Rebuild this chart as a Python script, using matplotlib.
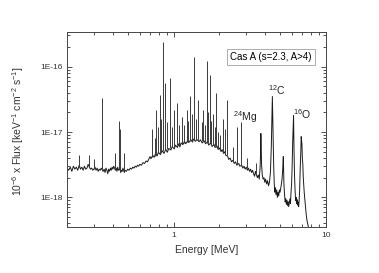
import numpy as np
import matplotlib
matplotlib.use("Agg")
import matplotlib.pyplot as plt
from matplotlib.ticker import LogLocator, NullFormatter, FixedLocator, FixedFormatter

plt.rcParams['font.family'] = ['Liberation Sans Narrow', 'Liberation Sans', 'DejaVu Sans']
plt.rcParams['mathtext.fontset'] = 'custom'
plt.rcParams['mathtext.rm'] = 'Liberation Sans Narrow'
plt.rcParams['mathtext.default'] = 'regular'

#----------------------------------------
# continuum incl. broad lines: energy [MeV], flux [1E-18]
cont_E = [0.200, 0.205, 0.210, 0.215, 0.220, 0.225, 0.230, 0.235, 0.240, 0.245,
          0.250, 0.255, 0.260, 0.265, 0.270, 0.275, 0.280, 0.285, 0.290, 0.295,
          0.300, 0.305, 0.310, 0.315, 0.320, 0.325, 0.330, 0.335, 0.345, 0.350,
          0.355, 0.360, 0.365, 0.370, 0.375, 0.380, 0.385, 0.390, 0.395, 0.400,
          0.405, 0.415, 0.420, 0.425, 0.430, 0.435, 0.445, 0.450, 0.455, 0.460,
          0.465, 0.475, 0.480, 0.490, 0.500, 0.510, 0.520, 0.530, 0.540, 0.550,
          0.560, 0.570, 0.580, 0.590, 0.600, 0.615, 0.630, 0.645, 0.660, 0.675,
          0.690, 0.700, 0.710, 0.730, 0.745, 0.760, 0.780, 0.795, 0.820, 0.840,
          0.865, 0.890, 0.910, 0.930, 0.960, 0.980, 1.010, 1.030, 1.060, 1.080,
          1.100, 1.120, 1.150, 1.180, 1.200, 1.240, 1.260, 1.300, 1.330, 1.350,
          1.390, 1.420, 1.470, 1.500, 1.540, 1.590, 1.620, 1.670, 1.700, 1.750,
          1.790, 1.840, 1.870, 1.930, 1.960, 2.000, 2.050, 2.080, 2.130, 2.170,
          2.200, 2.260, 2.300, 2.350, 2.400, 2.450, 2.500, 2.550, 2.600, 2.680,
          2.720, 2.800, 2.850, 2.900, 2.950, 3.000, 3.050, 3.100, 3.150, 3.200,
          3.250, 3.300, 3.350, 3.400, 3.450, 3.500, 3.550, 3.600, 3.650, 3.700,
          3.720, 3.740, 3.780, 3.820, 3.870, 3.920, 3.970, 4.020, 4.080, 4.140,
          4.200, 4.260, 4.320, 4.380, 4.450, 4.500, 4.540, 4.580, 4.620, 4.660,
          4.700, 4.750, 4.800, 4.850, 4.900, 4.950, 5.000, 5.080, 5.150, 5.200,
          5.250, 5.300, 5.350, 5.400, 5.450, 5.500, 5.550, 5.600, 5.650, 5.700,
          5.750, 5.800, 5.850, 5.900, 5.950, 6.000, 6.050, 6.100, 6.130, 6.170,
          6.220, 6.270, 6.320, 6.370, 6.420, 6.470, 6.520, 6.570, 6.620, 6.670,
          6.720, 6.780, 6.840, 6.880, 6.920, 6.960, 7.000, 7.050, 7.100, 7.150,
          7.200, 7.280, 7.350, 7.420, 7.500, 7.580, 7.650, 7.720, 7.800, 7.880]
cont_F = [2.8, 2.6, 2.9, 2.5, 3.0, 2.7, 2.9, 2.6, 3.1, 2.7,
          2.9, 2.6, 3.0, 2.7, 2.8, 3.2, 2.9, 2.7, 2.8, 2.6,
          2.7, 2.9, 2.6, 2.8, 2.5, 2.7, 2.6, 2.8, 2.5, 2.7,
          2.4, 2.8, 2.6, 2.3, 2.7, 2.5, 2.8, 2.6, 2.9, 2.7,
          3.0, 2.6, 2.8, 2.5, 2.9, 2.6, 2.7, 2.4, 2.6, 2.5,
          2.8, 2.4, 2.6, 2.5, 2.7, 2.6, 2.8, 2.7, 2.9, 2.8,
          3.0, 2.9, 3.1, 3.0, 3.2, 3.1, 3.4, 3.3, 3.6, 3.5,
          3.9, 4.2, 3.9, 4.4, 4.1, 4.6, 4.3, 4.9, 4.5, 5.2,
          4.7, 5.4, 4.9, 5.6, 5.3, 6.0, 5.5, 6.3, 5.8, 6.6,
          5.9, 6.8, 6.4, 7.2, 6.6, 7.4, 6.9, 7.6, 7.0, 7.8,
          7.2, 7.7, 7.1, 7.6, 6.8, 7.3, 6.6, 7.1, 6.3, 6.8,
          6.0, 6.5, 5.8, 6.1, 5.4, 5.7, 5.0, 5.4, 4.7, 5.0,
          4.4, 4.3, 3.8, 4.0, 3.5, 3.7, 3.3, 3.5, 3.1, 3.3,
          3.0, 3.1, 2.8, 3.0, 2.7, 2.9, 2.6, 2.8, 2.5, 2.7,
          2.4, 2.6, 2.3, 2.1, 2.5, 2.2, 2.0, 2.2, 1.9, 3.0,
          4.5, 9.5, 3.2, 2.2, 1.9, 2.0, 1.7, 1.9, 1.6, 1.8,
          1.5, 1.7, 2.4, 6.0, 35.0, 8.0, 3.0, 1.6, 1.2, 1.4,
          1.1, 1.3, 1.0, 1.2, 1.05, 1.3, 1.2, 1.5, 1.9, 2.6,
          4.2, 1.6, 1.1, 0.85, 0.95, 0.78, 0.90, 0.75, 0.86, 0.72,
          0.82, 0.95, 0.80, 1.2, 1.6, 3.0, 7.0, 12.0, 18.0, 5.5,
          2.2, 1.3, 0.9, 1.0, 0.8, 0.92, 0.76, 0.85, 0.72, 0.90,
          1.3, 2.8, 5.0, 8.5, 7.5, 6.5, 4.0, 3.2, 2.0, 1.5,
          1.2, 0.9, 0.7, 0.55, 0.45, 0.40, 0.36, 0.32, 0.28, 0.25]

# narrow lines: energy [MeV], foot and top [1E-18]
line_E = [0.238, 0.278, 0.300, 0.340, 0.410, 0.440, 0.445, 0.470, 0.720, 0.750,
          0.770, 0.790, 0.810, 0.830, 0.850, 0.880, 0.900, 0.950, 0.980, 1.000,
          1.050, 1.080, 1.130, 1.170, 1.220, 1.250, 1.280, 1.330, 1.370, 1.410,
          1.450, 1.530, 1.570, 1.610, 1.650, 1.690, 1.730, 1.770, 1.820, 1.860,
          1.900, 1.950, 2.030, 2.100, 2.170, 2.230, 2.450, 2.620, 2.750, 3.050,
          3.450]
line_base = [2.9, 2.9, 2.7, 2.7, 2.8, 2.7, 2.6, 2.6, 4.1, 4.3,
             4.5, 4.7, 4.8, 5.0, 5.1, 5.3, 5.4, 5.6, 5.8, 6.0,
             6.3, 6.4, 6.6, 6.8, 7.0, 7.1, 7.3, 7.4, 7.5, 7.5,
             7.5, 7.3, 7.2, 7.0, 6.9, 6.8, 6.7, 6.5, 6.3, 6.1,
             5.9, 5.7, 5.3, 5.0, 4.7, 4.4, 3.5, 3.2, 3.0, 2.8,
             2.4]
line_peak = [4.4, 4.4, 3.8, 33, 4.7, 15, 11, 4.7, 11, 8,
             22, 12, 37, 16, 240, 56, 14, 66, 12, 22,
             28, 13, 17, 13, 22, 15, 35, 19, 140, 16,
             31, 14, 22, 13, 120, 20, 75, 15, 19, 12,
             39, 10, 9, 16, 11, 31, 6, 12, 14, 4,
             3.4]

labels = ['$^{24}$Mg', '$^{12}$C', '$^{16}$O']
label_E = [2.45, 4.15, 6.05]
label_F = [17, 44, 19]

unit = 1e-18

#----------------------------------------
fig = plt.figure(figsize=(3.79, 2.73), dpi=100)
ax = fig.add_axes([0.177, 0.168, 0.683, 0.715])

ax.plot(cont_E, np.array(cont_F) * unit, color='#1a1a1a', lw=0.7,
        label='Cas A (s=2.3, A>4)')
ax.vlines(line_E, np.array(line_base) * unit, np.array(line_peak) * unit,
          color='#3a3a3a', lw=0.7)

for t, e, f in zip(labels, label_E, label_F):
    ax.text(e, f * unit, t, fontsize=7.5, va='center', ha='left', color='#222222')

ax.set_xscale('log')
ax.set_yscale('log')
ax.set_xlim(0.2, 10)
ax.set_ylim(3.5e-19, 3.4e-16)

ax.yaxis.set_major_locator(FixedLocator([1e-18, 1e-17, 1e-16]))
ax.yaxis.set_major_formatter(FixedFormatter(['1E-18', '1E-17', '1E-16']))
ax.yaxis.set_minor_locator(LogLocator(base=10, subs=np.arange(2, 10)))
ax.yaxis.set_minor_formatter(NullFormatter())
ax.xaxis.set_major_locator(FixedLocator([1, 10]))
ax.xaxis.set_major_formatter(FixedFormatter(['1', '10']))
ax.xaxis.set_minor_locator(LogLocator(base=10, subs=np.arange(2, 10)))
ax.xaxis.set_minor_formatter(NullFormatter())

ax.tick_params(which='both', direction='in', top=True, right=True,
               labelsize=6, colors='#333333', width=0.6)
ax.tick_params(which='major', length=3.5)
ax.tick_params(which='minor', length=2)
for s in ax.spines.values():
    s.set_linewidth(0.7)
    s.set_color('#444444')

ax.set_xlabel('Energy [MeV]', fontsize=7.5, color='#333333')
ax.xaxis.set_label_coords(0.54, -0.09)
ax.set_ylabel('10$^{-6}$ x Flux [keV$^{-1}$ cm$^{-2}$ s$^{-1}$]', fontsize=7.5,
              color='#333333')
ax.yaxis.set_label_coords(-0.16, 0.49)

leg = ax.legend(loc='upper right', bbox_to_anchor=(0.975, 0.935), fontsize=7,
                handlelength=0, handletextpad=0, frameon=True, fancybox=False,
                borderpad=0.3)
leg.get_frame().set_edgecolor('#888888')
leg.get_frame().set_linewidth(0.6)
for h in leg.legend_handles:
    h.set_visible(False)

plt.savefig('out.png', dpi=100)
